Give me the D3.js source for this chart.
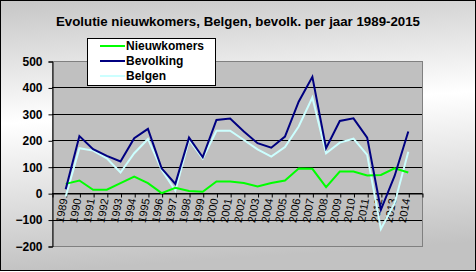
<!DOCTYPE html>
<html>
<head>
<meta charset="utf-8">
<title>Evolutie nieuwkomers</title>
<script src="https://d3js.org/d3.v7.min.js"></script>
<style>
  body { margin: 0; background: #fff; }
  svg text { font-family: "Liberation Sans", Arial, sans-serif; }
</style>
</head>
<body>
<script type="text/javascript">

// data
var years = [1989, 1990, 1991, 1992, 1993, 1994, 1995, 1996, 1997, 1998, 1999, 2000, 2001,
             2002, 2003, 2004, 2005, 2006, 2007, 2008, 2009, 2010, 2011, 2012, 2013, 2014];
var nieuwkomers = [35, 48, 13, 13, 38, 63, 38, 0, 20, 8, 5, 44, 44,
                   38, 25, 38, 48, 93, 92, 23, 82, 82, 67, 69, 94, 78];
var bevolking = [15, 216, 166, 141, 120, 208, 243, 94, 35, 210, 136, 277, 282,
                 233, 189, 172, 214, 346, 440, 170, 273, 283, 210, -63, 65, 233];
var belgen = [-13, 170, 161, 132, 78, 151, 205, 88, 10, 201, 131, 236, 236,
              201, 166, 138, 174, 252, 362, 151, 191, 206, 145, -136, -38, 157];
var seriesNames = ["Nieuwkomers", "Bevolking", "Belgen"];
var seriesColors = ["#00ff00", "#000080", "#ccffff"];
var yTicks = [-200, -100, 0, 100, 200, 300, 400, 500];
var title = "Evolutie nieuwkomers, Belgen, bevolk. per jaar 1989-2015";

var width = 476, height = 272;
var plot = {left: 52, right: 422, top: 61, bottom: 246};

var svg = d3.select("body").append("svg")
    .attr("width", width)
    .attr("height", height);

var defs = svg.append("defs");
var grad = defs.append("linearGradient")
    .attr("id", "bg")
    .attr("x1", 0).attr("y1", 0)
    .attr("x2", 0.12).attr("y2", 1);
grad.append("stop").attr("offset", 0).attr("stop-color", "#c6c6c6");
grad.append("stop").attr("offset", 0.45).attr("stop-color", "#ffffff");
grad.append("stop").attr("offset", 1).attr("stop-color", "#c2c2c2");

svg.append("rect")
    .attr("x", 0.5).attr("y", 0.5)
    .attr("width", width - 1).attr("height", height - 2)
    .attr("fill", "url(#bg)")
    .attr("stroke", "#000");

svg.append("text")
    .attr("x", 238).attr("y", 26)
    .attr("text-anchor", "middle")
    .attr("font-size", 13)
    .attr("font-weight", "bold")
    .attr("textLength", 364)
    .attr("lengthAdjust", "spacingAndGlyphs")
    .text(title);

var x = d3.scaleLinear().domain([1988, 2015]).range([plot.left, plot.right]);
var y = d3.scaleLinear().domain([-200, 500]).range([plot.bottom, plot.top]);

// plot area
svg.append("rect")
    .attr("x", plot.left + 0.5).attr("y", plot.top + 0.5)
    .attr("width", plot.right - plot.left).attr("height", plot.bottom - plot.top)
    .attr("fill", "#c0c0c0")
    .attr("stroke", "#808080");

svg.append("g").selectAll("line")
    .data(yTicks.filter(function(d) { return d > -200 && d < 500; }))
    .enter().append("line")
    .attr("x1", plot.left).attr("x2", plot.right)
    .attr("y1", function(d) { return Math.round(y(d)) + 0.5; })
    .attr("y2", function(d) { return Math.round(y(d)) + 0.5; })
    .attr("stroke", "#000");

// y axis
var yAxis = svg.append("g")
    .attr("transform", "translate(" + (plot.left + 0.5) + ",0.5)")
    .call(d3.axisLeft(y).tickValues(yTicks).tickSize(4).tickPadding(6));
yAxis.select(".domain").attr("stroke", "#000");
yAxis.selectAll("text")
    .attr("font-size", 12)
    .attr("font-weight", "bold")
    .attr("fill", "#000")
    .style("font-family", "'Liberation Sans', Arial, sans-serif");

// x axis on the zero line
var xAxis = svg.append("g")
    .attr("transform", "translate(0.5," + (Math.round(y(0)) + 0.5) + ")")
    .call(d3.axisBottom(x).tickValues(d3.range(1988, 2016)).tickSize(4).tickSizeOuter(0)
            .tickFormat(function(d) { return years.indexOf(d) >= 0 ? d : ""; }));
xAxis.select(".domain").attr("stroke", "#000");
xAxis.selectAll("text")
    .attr("font-size", 11)
    .attr("fill", "#000")
    .attr("text-anchor", "end")
    .attr("y", 0).attr("dy", "0.35em")
    .attr("transform", "translate(-3,5) rotate(-80)")
    .style("font-family", "'Liberation Sans', Arial, sans-serif");

// series
var allSeries = [nieuwkomers, bevolking, belgen];
var line = d3.line()
    .x(function(d, i) { return x(years[i]); })
    .y(function(d) { return y(d); });

svg.append("g").selectAll("path")
    .data([belgen, nieuwkomers, bevolking])
    .enter().append("path")
    .attr("d", line)
    .attr("fill", "none")
    .attr("stroke", function(d) { return seriesColors[allSeries.indexOf(d)]; })
    .attr("stroke-width", 2)
    .attr("stroke-linejoin", "miter");

// legend
var legend = svg.append("g");
legend.append("rect")
    .attr("x", 87.5).attr("y", 38.5)
    .attr("width", 128).attr("height", 47)
    .attr("fill", "#fff")
    .attr("stroke", "#000");

var item = legend.selectAll("g.item")
    .data(seriesNames)
    .enter().append("g")
    .attr("transform", function(d, i) { return "translate(100," + (46 + i * 15) + ")"; });
item.append("line")
    .attr("x1", 0).attr("x2", 25)
    .attr("stroke", function(d, i) { return seriesColors[i]; })
    .attr("stroke-width", 2);
item.append("text")
    .attr("x", 26).attr("dy", "0.36em")
    .attr("font-size", 12)
    .attr("font-weight", "bold")
    .text(function(d) { return d; });

</script>
</body>
</html>
